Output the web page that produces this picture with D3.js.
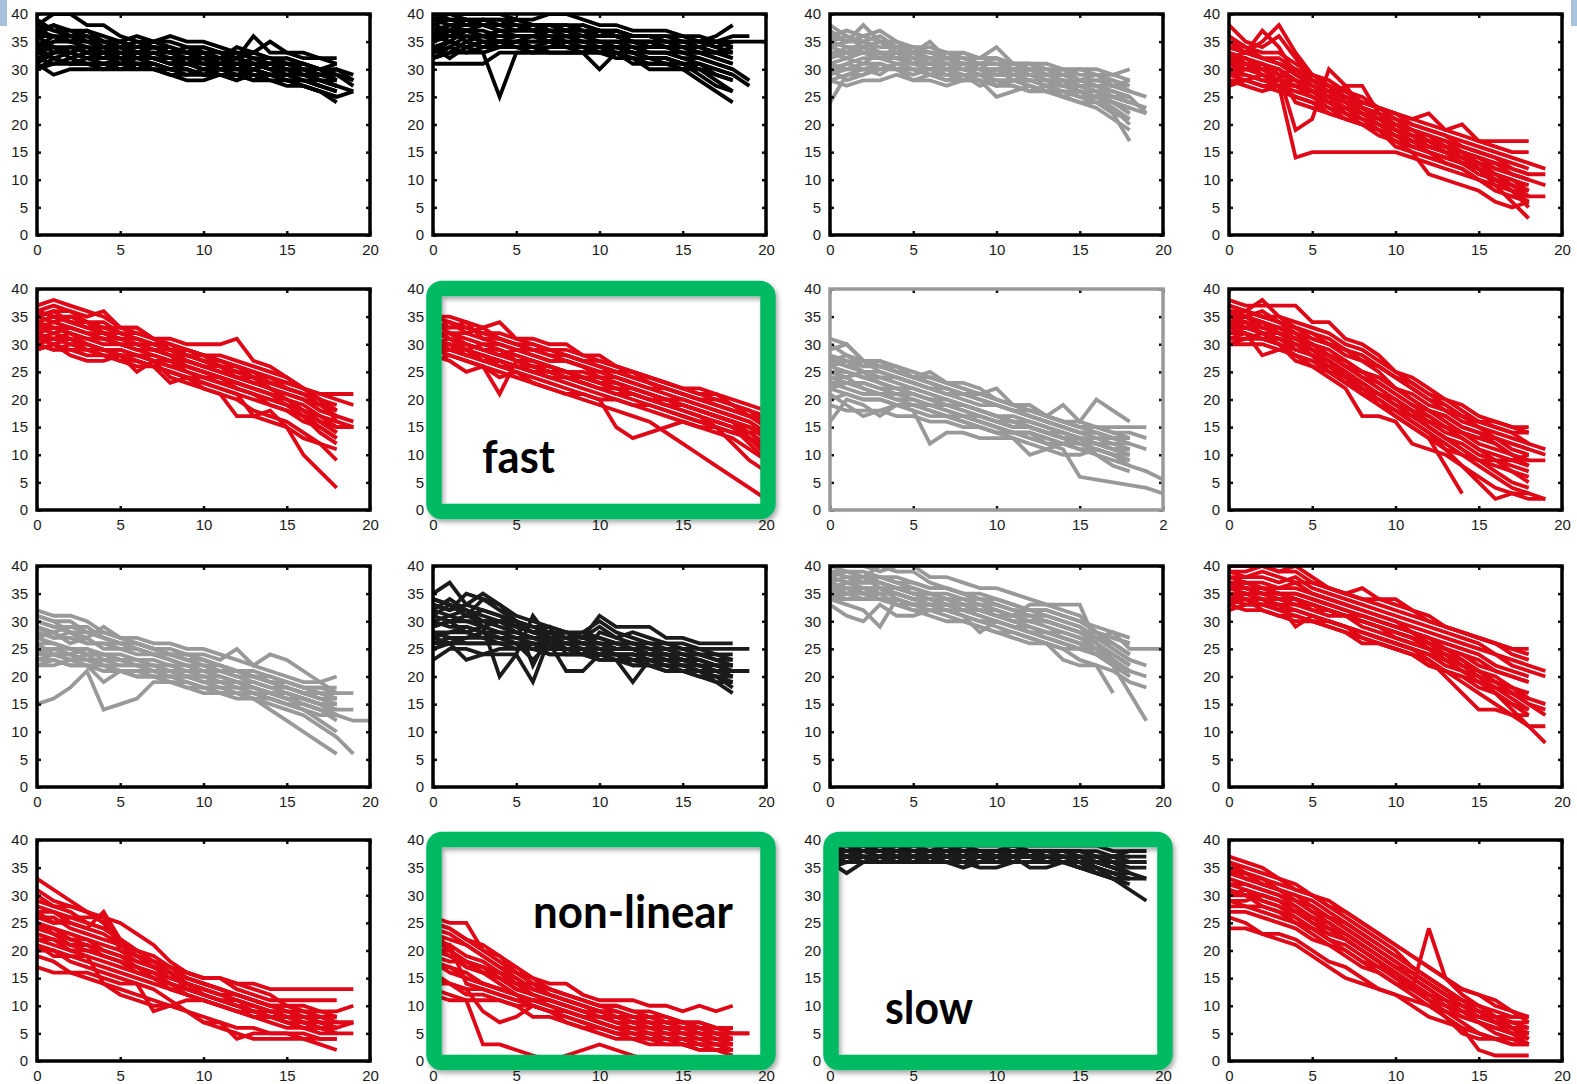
<!DOCTYPE html>
<html><head><meta charset="utf-8">
<script src="https://cdn.jsdelivr.net/npm/d3@7/dist/d3.min.js"></script>
<style>html,body{margin:0;padding:0;background:#fff;}svg{display:block;}</style>
</head><body>
<svg id="chart" width="1577" height="1084"></svg>
<script>
// ---------- DATA ----------
const xSteps = [0,1,2,3,4,5,6,7,8,9,10,11,12,13,14,15,16,17,18,19,20];
const yTicks = [0,5,10,15,20,25,30,35,40];
const xTicks = [0,5,10,15,20];
const xLabelsStd = ["0","5","10","15","20"];
const xLabelsCut = ["0","5","10","15","2"];

const p1 = [
[38,40,40,38,38,36,35,35,35,34,34,33,33,32,32,31,30,29,28],
[36,38,37,37,36,35,36,35,36,35,35,34,33,33,32,32,31,30,30],
[34,35,35,34,34,33,33,33,32,32,32,31,31,31,30,30,29,29,29],
[32,33,33,32,32,33,32,32,31,31,30,31,30,31,30,29,29,28,27],
[30,31,31,31,30,30,30,30,30,29,29,29,29,28,28,28,27,26,25],
[31,29,30,30,30,31,31,30,29,28,28,29,29,28,29,28,27,26,24],
[35,34,34,33,33,32,32,32,31,31,31,31,32,36,33,33,32,32,31],
[33,34,32,33,32,32,31,31,30,30,29,29,28,30,29,30,29,28,28],
[37,36,36,35,34,34,33,33,33,32,32,32,34,33,35,33,33,32,32],
[39,37,36,36,35,35,34,34,33,33,33,33,32,31,31,31,31,30,29,27],
[34,32,31,31,31,31,31,31,30,30,29,30,30,29,29,29,28,28,27,26],
[36,36,35,35,34,34,33,34,33,33,32,32,32,31,31,30,30,29,30,29],
[31,33,34,34,33,33,32,32,32,32,31,30,30,30,29,29,28,27],
[33,35,36,35,35,34,34,34,34,33,33,32,31,32,31,31,30,30,28],
[37,38,36,37,35,34,35,34,33,34,33,32,33,32,31,32,31,30,31],
[35,33,34,33,34,32,33,32,31,32,31,32,30,31,30,29,30,28,27],
[32,31,32,31,31,30,31,30,29,29,30,29,28,29,28,27,27,26,25,26],
[36,34,33,34,33,34,32,33,32,31,32,30,31,30,31,30,29,28,27],
[33,32,33,32,33,31,32,31,30,31,30,30,29,30,29,28,28,27,26],
[38,37,37,36,35,35,34,35,34,33,34,33,32,33,32,31,31,30,29,28],
[30,32,31,32,31,32,30,31,30,30,29,30,29,28,29,28,28,27,26],
[34,36,35,36,34,35,33,34,33,32,33,31,32,31,30,31,30,29,30,28]
];
const p2 = [
[40,40,40,40,40,39,39,40,40,39,38,38,37,37,37,36,36,35,34],
[38,39,39,38,38,38,38,38,38,37,37,37,36,36,36,36,35,36,38],
[36,37,37,37,36,36,36,37,37,36,36,36,35,35,34,34,34,33,32],
[34,35,34,35,35,34,34,34,35,35,34,34,34,33,33,33,32,31,30],
[32,33,33,33,25,33,33,33,33,33,33,33,31,31,31,30,30,29,28],
[31,31,31,31,33,33,33,33,33,33,30,33,32,30,30,30,28,26,24],
[39,38,38,39,39,38,37,37,36,36,36,36,35,35,35,35,35,35,35,35,35],
[35,36,36,36,35,35,35,35,34,34,34,34,33,33,33,32,31,30,29,27],
[33,34,36,35,35,36,36,36,35,35,35,35,34,34,34,34,33,33,33],
[37,38,38,38,37,37,37,37,37,37,36,36,35,35,35,34,34,35,36,36],
[32,34,33,34,34,35,35,35,34,34,33,33,32,32,32,31,30,28,26],
[36,35,37,36,36,36,36,36,36,35,35,35,35,34,34,33,33,32,31],
[40,39,39,39,39,39,38,38,38,38,37,37,36,36,36,35,35,34,33],
[34,32,34,33,34,34,34,33,33,33,34,34,33,32,32,31,29,27,26],
[39,39,38,39,38,38,37,38,37,37,36,37,36,36,35,35,34,33,32],
[37,36,37,36,37,36,36,35,36,35,35,34,34,33,33,32,32,31,30,28],
[35,37,35,36,35,35,36,35,35,34,34,33,33,32,31,31,30,29,28],
[33,35,34,35,34,34,33,34,34,33,33,34,33,32,32,31,31,30,29],
[38,37,39,38,38,37,38,37,37,36,37,36,35,35,34,33,33,32,31],
[36,38,37,38,37,37,37,36,36,36,35,35,35,34,34,34,33,33,34],
[32,33,35,34,35,35,34,35,34,34,33,32,32,31,31,30,31,29,28],
[39,40,39,39,38,39,38,38,37,38,37,36,36,36,35,35,35,34,35]
];
const p3 = [
[38,36,35,36,34,33,33,33,32,32,32,31,31,30,30,30,30,29,30],
[36,37,36,37,35,34,34,33,33,32,32,31,31,31,30,29,29,29,28],
[34,35,38,35,35,33,35,32,33,32,34,31,31,30,29,30,29,28,27],
[32,33,33,33,33,32,32,32,31,31,31,30,30,29,29,28,28,27,26],
[30,31,32,32,31,31,31,31,30,30,29,29,29,28,28,27,26,25,24],
[28,29,29,30,30,30,30,29,29,29,28,28,28,27,26,26,25,24,22],
[28,27,28,28,29,28,28,27,28,28,27,27,26,26,25,24,23,21,19],
[24,29,30,30,31,30,29,28,28,28,27,28,27,26,26,25,25,23,20],
[35,34,34,33,32,32,31,31,31,30,30,30,30,29,28,27,26,22,17],
[33,32,33,32,32,31,31,30,30,29,29,29,28,28,27,27,26,25,25,22],
[31,30,30,31,30,30,29,29,29,29,28,28,28,27,27,26,25,24,23,22],
[36,35,35,34,34,33,32,32,31,30,30,30,29,28,28,28,27,26,25],
[29,30,31,31,30,29,30,30,29,28,25,26,27,26,25,24,24,22,21],
[33,33,34,33,33,33,32,31,31,31,31,31,30,29,29,28,28,28,26],
[35,36,34,35,33,34,33,32,32,31,31,30,30,29,29,28,27,27,26,25],
[33,32,34,32,33,31,32,30,31,30,30,29,29,28,27,27,26,25,24],
[31,32,31,33,32,31,30,31,30,29,30,28,28,27,28,26,26,24,23],
[29,31,30,29,31,30,29,30,28,29,27,28,27,26,26,25,24,23,21],
[34,33,35,33,32,33,31,31,30,31,29,30,29,28,27,28,27,26,25],
[37,35,36,35,34,34,33,33,32,31,32,30,31,29,30,28,29,27,28],
[30,28,29,31,30,28,29,28,29,27,28,27,26,27,25,26,24,24,22],
[32,34,33,32,34,32,31,32,31,30,30,29,30,28,28,27,27,25,24,23]
];
const p4 = [
[38,35,34,36,32,28,27,25,23,22,20,19,18,17,16,15,14,13,12],
[34,33,35,38,33,29,28,26,25,23,22,21,20,19,18,17,16,15,15],
[32,33,37,34,29,27,26,25,24,23,22,21,22,19,20,17,17,17,17],
[30,30,31,29,19,21,30,27,23,21,19,18,17,16,15,14,13,12,11,11],
[28,28,27,27,14,15,15,15,15,15,15,14,13,12,11,10,9,8,7],
[31,30,29,28,27,26,25,27,27,22,19,18,17,16,15,13,11,9,7,7],
[33,32,31,30,28,26,24,22,21,19,18,17,16,15,14,12,10,8,6],
[29,28,27,26,25,24,23,22,21,20,19,18,17,16,15,12,9,6,3],
[35,33,32,31,30,28,26,25,23,22,20,19,18,16,14,12,10,8,5],
[30,29,28,28,27,25,23,21,20,19,18,17,16,15,14,13,12,11,10],
[36,34,33,33,31,29,27,24,22,20,18,16,15,13,12,10,9,8,7],
[27,28,29,27,27,26,24,23,21,19,17,16,15,14,13,12,11,10,9],
[32,31,30,29,28,26,25,22,20,19,16,15,14,13,12,10,8,7,6],
[29,30,31,29,24,23,22,21,20,18,17,15,11,10,9,8,6,5,6],
[34,33,32,31,29,28,27,26,24,23,21,20,19,18,16,15,14,12,11],
[31,32,30,30,28,27,25,24,23,21,20,19,17,16,15,14,12,11,10,9],
[29,29,28,27,26,25,24,23,22,20,19,17,16,15,13,12,11,9,8],
[33,31,31,29,30,27,26,25,23,22,21,19,18,17,15,14,13,11,10],
[28,27,26,27,25,24,22,21,20,19,18,17,15,14,13,11,10,9,7],
[35,34,32,32,30,29,27,26,24,23,22,20,19,18,17,16,15,14,13,12],
[30,31,29,28,27,26,25,23,22,21,19,18,16,15,13,12,10,9,8],
[32,30,30,28,28,26,26,24,22,21,20,18,17,15,14,13,11,10,8]
];
const p5 = [
[37,38,37,36,35,33,33,31,31,30,30,30,31,27,26,24,22,21,21,21],
[35,36,36,35,36,33,33,31,30,29,28,27,26,25,24,23,22,20,18],
[33,34,35,34,32,31,31,30,30,28,27,26,25,24,23,22,21,19,17],
[31,32,33,32,31,30,29,29,28,27,26,25,24,23,22,20,18,16,15,15],
[29,30,28,27,27,28,25,27,24,23,22,21,20,18,17,16,14,12,11],
[30,29,29,29,28,28,27,26,25,24,23,22,21,17,18,15,10,7,4],
[36,35,34,33,32,31,30,29,28,28,27,26,25,24,22,21,20,19,18],
[34,33,32,31,31,30,30,29,28,26,25,24,23,22,21,20,19,17,16],
[32,31,32,30,29,29,28,28,27,25,24,24,22,21,20,19,18,16,14],
[30,31,31,30,29,28,28,27,26,26,25,24,23,22,21,19,17,14,12],
[36,37,36,34,33,33,32,31,30,29,28,28,27,26,25,24,22,20,16,15],
[33,32,31,30,29,28,27,26,23,24,23,22,21,20,19,18,17,15,13],
[35,34,33,32,32,31,30,30,29,28,27,26,26,25,23,22,21,20,19],
[31,30,29,28,28,27,26,26,25,24,22,21,17,17,16,15,13,12,9],
[34,35,34,33,33,32,31,30,29,29,28,27,26,25,24,23,22,21,20,19],
[32,33,32,31,30,30,29,28,27,27,26,25,24,23,22,21,20,18,17],
[30,29,30,29,28,27,27,26,25,24,24,23,22,21,20,19,17,16,14],
[36,35,35,34,34,32,32,31,29,29,28,27,26,24,24,22,21,19,18],
[33,33,33,32,31,31,30,29,29,27,26,26,24,24,22,21,20,18,17,16],
[29,30,31,29,29,28,28,27,26,25,24,23,22,21,19,18,16,15,13],
[35,36,34,34,32,32,31,30,29,28,28,26,25,24,23,22,21,20,18],
[31,31,30,30,29,29,28,27,27,26,25,24,23,22,21,20,18,17,15,15]
];
const p6 = [
[35,35,34,33,34,31,31,30,30,28,28,26,25,24,23,22,21,21,19,18,17],
[33,33,34,31,31,30,29,29,28,27,26,25,25,23,22,21,20,19,18,17,16],
[31,32,30,29,28,29,28,27,27,26,24,24,23,22,21,20,19,18,17,16,14],
[30,29,28,27,27,26,26,25,25,24,23,22,21,20,19,18,17,15,12,9,7],
[29,28,27,26,21,27,26,25,24,23,22,21,20,19,18,17,16,15,14,14,14],
[28,27,25,26,24,25,23,22,21,20,19,18,17,16,14,12,10,8,6,4,2],
[32,31,30,29,29,28,27,26,25,24,23,22,21,20,20,19,18,17,16,15,13],
[34,32,32,31,30,29,29,28,27,26,25,25,24,23,22,21,20,19,18,17,17],
[30,30,29,28,27,26,25,25,24,24,23,22,22,21,20,19,18,17,16,13,10],
[27,28,27,26,25,24,23,22,21,21,20,15,13,14,15,16,15,15,14,13,12],
[33,31,29,28,27,26,25,24,23,22,21,20,19,19,18,17,16,16,15,12,9],
[31,30,29,30,29,27,26,26,25,24,24,23,22,21,20,19,18,17,16,15,14],
[29,29,28,28,26,25,24,23,22,21,20,20,19,18,17,16,15,14,13,11,9],
[34,33,33,32,31,30,30,29,28,27,27,26,25,24,23,22,22,21,20,19,18],
[32,32,31,30,30,29,28,27,27,26,25,24,23,22,22,21,20,19,18,17,15],
[30,31,30,29,28,27,27,26,25,25,24,23,22,21,20,20,19,18,17,16,14],
[28,29,29,27,26,26,25,24,24,23,22,21,21,20,19,18,17,16,15,13,11],
[33,34,32,33,31,30,29,28,28,27,26,25,24,23,22,21,20,20,19,17,16],
[31,29,30,29,28,28,27,26,25,24,23,23,22,21,20,19,18,17,16,14,12],
[29,30,28,28,27,26,26,25,24,23,22,22,21,20,19,19,18,17,16,15,13],
[35,34,33,32,32,31,30,29,29,28,27,26,25,24,23,22,21,20,19,18,16]
];
const p7 = [
[31,30,27,27,26,24,25,23,22,21,22,19,19,17,16,15,15,15,15,15],
[29,30,27,26,26,25,24,23,23,22,20,19,19,17,19,16,20,18,16],
[27,28,26,26,25,24,23,22,21,20,19,18,17,16,15,14,14,13,13],
[25,25,24,24,23,22,21,20,19,18,17,16,16,15,14,13,13,12,12],
[23,23,23,22,22,21,20,19,18,17,16,16,15,14,13,13,12,11,11],
[21,19,17,18,19,18,12,14,14,13,13,13,12,11,10,10,11,10,9],
[16,20,19,17,19,18,17,17,16,15,14,14,14,12,11,6,5.5,5,4.5,4,3],
[22,21,20,20,19,19,18,17,16,15,14,13,10,11,12,13,10,8,7],
[26,25,24,23,22,21,20,19,19,18,17,16,15,14,13,12,11,10,8,7,5.5],
[24,24,22,21,20,20,19,18,17,16,15,14,14,13,12,11,10,9,8],
[28,26,25,25,24,23,22,22,21,20,19,18,17,16,15,14,14,13,13],
[19,18,18,18,17,17,16,16,15,15,14,14,13,12,12,12,11,10,10],
[23,22,21,21,20,19,19,18,17,17,16,15,15,14,13,12,12,11,10],
[30,28,27,26,25,24,23,22,21,21,20,19,18,17,16,15,14,13,12],
[27,26,27,25,24,23,22,21,20,19,19,18,17,16,15,14,13,13,12,11],
[25,24,25,23,22,22,21,20,19,18,17,17,16,15,14,13,12,12,11],
[22,23,22,21,21,20,19,19,18,17,16,15,15,14,13,13,12,11,10],
[26,27,25,24,24,23,22,21,21,20,19,18,18,17,16,15,15,14,13],
[20,21,20,20,19,19,18,17,17,16,15,14,14,13,12,11,11,10,9],
[28,27,26,27,25,24,24,23,22,21,20,19,18,17,16,16,15,14,14,13],
[24,23,23,22,21,21,20,20,19,18,17,16,15,14,14,13,12,11,11]
];
const p8 = [
[38,37,37,37,37,34,34,31,30,28,25,23,21,20,19,17,16,15,15],
[36,36,38,35,34,33,32,30,29,27,25,24,22,20,18,16,16,15,14],
[35,35,34,33,32,31,30,29,28,26,24,22,20,19,17,16,15,14,12,11],
[34,33,34,32,31,30,28,26,24,22,20,18,16,15,14,13,13,12,11],
[32,32,28,29,30,28,26,24,22,21,19,18,17,15,14,12,11,10,9],
[30,31,31,31,30,28,25,23,21,20,18,16,14,12,10,9,9,9,10],
[33,32,31,30,27,26,24,22,17,17,16,12,11,10,8,6,4,3,2,2],
[37,36,35,34,32,29,27,24,21,19,17,15,13,8,3],
[31,31,32,30,29,28,26,24,22,21,20,18,15,13,11,9,8,7,6],
[35,34,33,33,32,30,28,26,25,23,21,19,17,15,13,11,9,7,5],
[33,33,32,31,30,29,27,25,22,19,18,16,14,11,8,5,2,3,3,2],
[36,35,36,34,33,31,30,28,27,25,22,21,19,18,16,15,14,13,12],
[34,34,33,32,31,30,29,27,25,24,22,20,18,17,15,14,12,10,8],
[37,36,35,35,33,32,31,29,27,26,24,22,20,18,17,16,15,14,14],
[34,35,33,33,31,30,28,27,25,24,22,20,18,17,15,14,13,12,11,10],
[32,33,32,31,29,28,27,25,23,21,19,17,15,13,12,10,9,8,7],
[36,35,34,32,31,29,27,25,23,21,19,17,15,13,11,9,7,5,4],
[31,32,31,30,28,27,25,24,22,20,18,17,16,14,13,11,10,9,8],
[33,34,32,32,30,29,28,26,24,23,21,19,18,16,14,13,12,10,9,9],
[35,36,35,34,33,32,30,29,27,26,24,23,21,19,17,15,13,11,10],
[30,30,30,29,28,26,25,23,21,19,17,15,13,11,10,8,6,4,3]
];
const p9 = [
[32,31,31,30,28,27,27,26,26,25,25,24,23,22,21,20,19,19,20],
[30,29,28,27,29,27,26,25,24,24,24,23,25,22,24,23,21,19,17],
[28,27,27,26,26,25,25,24,24,23,22,22,21,20,20,19,18,18,18],
[26,26,25,25,24,24,23,23,22,22,21,21,20,19,18,18,17,17,16],
[24,24,24,23,23,22,22,21,21,20,20,19,19,18,17,17,16,15,14],
[22,22,23,24,22,21,21,20,20,20,19,18,18,17,16,15,14,13,13,12,12],
[15,16,18,21,14,15,16,19,19,18,18,17,17,16,14,12,10,8,6],
[25,24,23,22,19,21,20,20,19,18,17,17,16,16,15,14,13,11,9,6],
[27,26,25,24,24,23,22,22,21,20,20,20,19,18,17,16,15,14,12],
[29,28,29,29,27,26,25,24,23,22,21,20,19,18,17,17,16,15,15],
[23,23,22,22,21,21,20,20,19,19,18,18,17,17,16,15,15,14,13],
[31,30,30,28,27,26,26,25,25,24,23,22,21,20,19,19,18,17,17],
[25,25,24,23,22,21,21,21,20,19,18,17,17,16,16,15,14,12,10],
[30,29,29,28,27,26,26,25,24,23,23,22,21,21,20,19,18,18,17,17],
[27,28,26,27,25,25,24,24,23,22,22,21,20,20,19,18,17,17,16],
[24,25,25,24,24,23,23,22,22,21,21,20,19,19,18,17,16,15,15],
[22,23,22,22,22,21,21,21,20,20,19,19,18,17,17,16,15,14,13],
[29,27,28,26,26,26,25,24,24,23,22,21,21,20,19,18,17,16,15],
[26,24,24,25,23,23,22,22,21,21,20,19,19,18,17,16,16,15,14,14],
[31,30,28,28,28,27,26,25,24,24,23,22,21,20,19,18,17,16,16],
[23,24,23,23,22,22,22,21,21,20,19,19,18,18,17,17,16,15,13]
];
const p10 = [
[35,37,33,35,33,31,30,29,28,27,31,29,29,29,27,27,26,26,26],
[33,32,35,34,33,30,29,28,27,28,30,28,27,26,26,25,25,25,25,25],
[31,33,31,34,32,30,28,27,28,27,29,27,26,26,25,25,24,24,24],
[29,30,30,29,20,24,31,27,27,26,25,25,25,24,24,23,23,22,22],
[27,28,28,27,27,26,23,26,21,21,24,24,22,22,21,21,21,21,21],
[23,25,25,24,24,24,19,27,25,25,24,23,19,23,22,21,20,19,19],
[32,31,30,30,29,28,27,27,26,26,26,25,25,24,24,23,22,21,20],
[30,29,29,28,28,27,27,26,26,25,25,24,24,23,23,22,21,19,17],
[28,27,27,27,26,26,26,25,25,25,24,24,23,23,22,22,22,21,20],
[26,26,26,26,26,26,25,25,25,25,24,24,24,24,23,23,23,22,22],
[34,33,32,31,30,30,22,28,28,28,27,26,26,25,25,24,24,23,22],
[25,26,23,24,25,25,26,24,24,24,23,23,22,22,21,21,20,20,18],
[30,31,32,29,30,29,28,29,24,24,28,27,28,27,26,26,25,24,23],
[33,32,33,32,31,30,29,29,28,27,27,26,26,25,25,24,24,23,23],
[31,30,31,30,30,29,28,28,27,27,26,26,25,25,24,24,23,22,21],
[29,30,28,29,28,28,27,27,26,26,26,25,25,24,24,23,22,22,21,21],
[27,26,27,28,27,27,26,26,25,25,25,24,24,23,23,22,22,21,20],
[34,33,31,32,31,29,28,27,27,26,26,25,25,24,24,23,23,22,22],
[28,28,29,28,27,26,26,25,25,24,24,24,23,23,22,22,21,20,19],
[26,27,26,26,26,25,25,24,24,24,23,23,23,22,22,21,21,20,20],
[32,34,32,30,30,28,27,26,26,26,25,25,25,24,23,23,22,21,21]
];
const p11 = [
[40,40,40,39,40,40,38,38,37,36,36,35,34,33,32,31,28,27,26],
[38,39,38,40,39,39,37,36,35,35,34,33,32,32,31,30,29,28,25,25,25],
[36,37,37,38,37,36,35,35,34,34,33,32,31,31,30,29,27,26,24],
[35,36,35,36,35,34,34,33,33,32,31,30,29,28,28,27,25,22,17,12],
[34,33,32,29,34,33,33,33,32,31,30,29,28,27,26,25,24,22,21],
[33,31,30,33,31,31,32,31,30,29,28,27,26,26,25,23,22,17],
[37,36,36,35,35,34,33,33,32,32,31,31,33,33,33,33,26,23,20],
[39,38,38,37,36,35,35,34,33,33,32,31,30,30,29,28,26,24,22],
[36,35,36,36,34,33,33,32,31,28,30,29,29,28,27,26,25,23,21],
[34,34,34,35,33,32,32,32,31,30,29,28,27,26,23,22,22,21,19,18],
[38,37,37,37,36,36,35,34,34,33,33,32,31,30,29,28,27,26,24],
[35,35,34,34,33,32,31,30,30,29,28,28,27,26,25,25,27,28,27],
[39,39,38,38,37,37,36,36,35,34,34,33,32,32,31,30,28,26,24],
[37,38,37,37,36,35,35,34,33,33,32,31,31,30,29,28,27,25,23,22],
[36,36,35,35,35,34,33,33,32,32,31,30,30,29,28,27,26,24,22],
[35,34,34,34,33,33,32,32,31,30,30,29,28,28,27,26,24,22,20],
[40,39,39,38,38,37,36,36,35,34,33,32,32,31,30,29,27,25,23],
[34,35,35,34,34,33,33,32,32,31,30,29,28,27,26,25,24,23,21,20],
[38,37,38,36,36,35,34,34,33,32,32,31,30,30,29,28,28,27,26],
[36,37,36,36,35,34,34,33,33,32,31,30,29,28,27,26,25,24,22]
];
const p12 = [
[40,40,40,39,40,38,36,35,36,34,33,32,30,29,28,27,26,25,25],
[39,39,40,39,39,37,36,35,34,34,34,32,31,29,28,27,26,24,23],
[38,38,38,37,38,36,35,34,33,32,31,30,29,28,27,26,24,23,22,21],
[37,37,36,36,37,35,34,33,32,31,30,28,27,25,23,21,19,17,15,14],
[36,36,35,35,35,34,33,32,31,30,29,28,27,26,25,24,22,21,20],
[35,34,34,33,33,32,31,31,30,29,28,27,25,23,21,19,17,15,13],
[34,33,33,33,29,31,30,29,28,27,26,25,24,22,21,20,18,16,14],
[33,34,32,31,31,30,29,28,26,26,25,24,23,21,19,17,15,13,11,11],
[36,35,35,34,34,33,32,31,31,30,29,28,26,25,24,23,21,20,19],
[34,35,34,32,32,31,30,29,28,27,26,25,23,20,17,14,14,13,13],
[37,36,36,35,34,33,32,31,30,29,28,27,25,24,22,20,17,14,11,8],
[32,33,33,32,31,30,30,29,27,26,25,24,22,21,20,19,18,17,16],
[39,38,39,38,37,37,36,35,34,33,32,31,30,29,28,27,26,25,24],
[38,37,37,36,36,35,34,33,32,31,30,29,28,27,26,25,24,22,21,20],
[36,37,36,35,35,34,33,32,31,30,29,28,26,25,24,22,21,20,19],
[35,35,34,34,33,33,32,31,30,29,27,26,25,24,22,21,19,18,17],
[37,36,35,35,34,33,32,31,30,29,28,27,26,24,23,21,20,18,16,15],
[34,34,33,33,32,31,30,29,28,27,26,25,24,23,21,20,19,18,16],
[33,32,32,31,30,30,29,28,27,26,25,24,22,21,20,18,17,15,14],
[36,36,35,34,34,32,32,31,29,28,27,26,25,23,22,21,19,17,15,13]
];
const p13 = [
[33,31,29,27,25,22,20,18,17,16,15,15,14,14,13,13,13,13,13,13],
[31,29,28,27,26,25,23,21,18,16,15,15,13,12,11,11,11,11,11],
[29,28,28,27,25,21,19,18,17,15,14,13,12,11,10,10,10,9,9,10],
[27,25,25,24,27,22,19,18,16,14,12,11,10,9,9,8,8,7,7,7],
[25,24,22,21,20,19,18,17,16,14,13,12,11,10,9,8,7,7,6],
[23,22,20,19,14,12,11,10,10,9,8,7,6,6,5,5,5,4,4],
[21,20,18,17,16,15,14,13,11,9,7,6,5,4,4,4,4,3,2],
[19,18,16,15,14,13,12,11,10,9,7,7,4,5,5,5,4,4,4],
[17,16,16,16,15,14,14,9,10,11,11,10,9,8,8,7,6,6,6],
[26,25,26,26,26,20,19,18,17,16,15,15,14,13,12,10,9,8,7],
[24,23,21,21,19,18,16,15,14,13,12,11,11,10,9,9,8,7,6,7],
[22,21,20,20,19,18,17,16,15,14,13,12,12,11,10,9,8,8,8],
[28,27,26,25,24,22,20,18,16,13,12,11,10,9,8,8,7,6,5],
[30,28,27,25,24,22,20,19,17,15,14,13,12,11,10,9,9,8,8],
[26,26,24,23,22,21,19,17,16,14,13,12,11,10,9,9,8,8,7,7],
[24,24,23,22,20,19,17,16,14,13,12,11,10,9,8,8,7,6,6],
[22,22,21,20,19,18,17,15,13,12,11,10,9,8,7,6,6,5,5],
[20,20,19,19,18,17,16,15,14,12,11,10,9,9,8,7,7,6,6],
[27,27,25,24,23,21,19,17,16,15,14,13,12,11,10,10,9,9,8],
[25,23,22,22,21,20,18,17,15,14,12,11,10,10,9,8,8,7,6],
[21,19,19,18,17,16,15,14,13,12,11,10,9,8,8,7,6,6,5,5]
];
const p14 = [
[26,25,25,20,19,17,15,14,14,12,11,11,11,10,10,9,10,9,10],
[25,24,22,21,19,16,14,12,11,10,9,9,8,8,7,7,7,6,6],
[23,22,21,19,17,15,13,12,11,10,9,8,7,7,6,6,5,5,5,5],
[22,20,18,17,15,13,12,11,10,9,8,7,6,6,5,5,4,4,4],
[20,19,17,16,14,12,11,10,9,8,7,6,6,5,5,4,4,3,3],
[18,17,16,14,13,12,10,9,8,7,6,5,5,4,4,3,3,2,2],
[16,14,13,9,7,8,10,9,7,6,5,4,4,3,3,3,2,2,2],
[13,12,11,3,3,2,1,0,1,2,3,2,1,0,0,0,0,0,0],
[21,21,14,13,12,11,10,9,8,7,6,5,5,4,4,4,3,3,3],
[12,11,11,11,11,10,10,9,9,8,7,6,6,5,4,4,3,3,2],
[24,20,17,16,16,14,12,11,10,9,8,8,7,7,6,6,6,5,4],
[15,14,12,12,11,10,8,8,7,6,6,5,4,4,3,3,2,2,1],
[19,18,18,17,16,14,14,13,12,11,10,10,9,9,8,7,6,5,4],
[24,23,21,19,17,16,14,13,12,11,10,9,8,8,7,7,6,6,5],
[22,21,19,18,16,15,13,12,11,10,9,8,8,7,7,6,6,5,5,5],
[20,20,18,16,15,14,13,12,11,10,9,9,8,8,7,7,6,6,6],
[18,16,15,14,13,12,11,11,10,9,8,8,7,6,6,5,5,4,4],
[17,17,15,14,13,12,11,10,9,8,8,7,7,6,6,5,5,4,3],
[14,14,13,13,12,11,11,10,9,8,7,6,5,5,4,4,3,3,3],
[25,24,22,20,18,16,15,13,12,11,10,10,9,8,8,7,7,6,6],
[21,19,18,16,15,13,12,11,10,9,9,8,7,7,6,6,5,4,4]
];
const p15 = [
[39,39,39,39,39,39,39,39,39,39,39,39,39,39,39,39,39,38,38,38],
[38,38,38,38,38,38,38,38,38,38,38,38,38,38,38,38,37,37,38,38],
[37,37,38,37,37,38,38,38,37,37,38,37,38,38,38,37,37,37,36,36],
[36,34,36,37,36,37,37,37,37,37,37,37,37,37,37,36,36,35,34,33],
[35,36,36,36,37,37,36,37,36,36,37,37,37,36,36,35,34,33,31,29],
[37,37,37,36,37,37,37,36,35,36,37,37,35,35,36,36,34,33,33,33],
[38,38,38,38,38,38,37,38,38,38,38,37,37,38,37,37,36,36,34],
[36,37,37,37,38,37,37,38,38,37,37,38,38,38,38,38,37,36,36,36],
[39,38,38,39,38,38,38,38,39,38,38,38,38,38,38,37,37,37,37,37],
[37,36,36,37,36,36,36,36,36,35,35,36,36,36,36,36,35,34,33],
[38,37,37,37,37,37,37,37,37,37,36,37,37,37,37,37,35,33,32],
[36,36,37,37,37,37,36,36,36,37,36,37,37,36,36,35,34,33,33],
[38,37,38,38,37,37,38,37,37,38,37,37,38,37,37,37,36,36,35,35],
[37,38,37,37,38,37,37,37,38,37,37,37,37,37,37,37,36,35,34],
[39,39,38,38,38,39,38,38,38,38,38,39,38,38,38,38,38,37,37],
[36,36,36,36,36,37,36,37,36,36,36,36,36,37,36,36,35,34,33],
[38,38,39,38,38,38,38,38,37,38,38,38,37,37,37,37,37,36,36,36],
[37,37,36,37,37,36,37,37,37,37,37,37,37,37,37,36,36,35,34],
[39,38,38,38,39,38,38,39,38,38,38,38,38,38,38,38,37,37,36],
[36,37,37,37,37,37,37,37,37,37,37,36,36,36,36,35,35,34,34]
];
const p16 = [
[37,36,35,33,31,30,28,26,24,22,20,17,15,13,11,10,9,8,8],
[36,34,33,32,31,30,29,27,25,23,21,19,17,15,13,12,10,9,7],
[35,34,33,31,29,28,26,24,22,20,18,16,14,12,10,9,7,5,3],
[33,32,31,30,28,26,24,22,20,18,16,14,12,10,9,8,7,6,5],
[32,31,30,29,28,25,23,22,20,18,15,13,11,9,7,5,4,3,3],
[31,30,28,27,25,23,21,20,18,16,14,12,10,8,6,2,1,1,1],
[30,30,29,28,26,24,22,20,18,17,16,13,24,15,12,10,8,6,5],
[28,28,27,26,25,24,23,22,20,18,16,14,11,8,5,4,4,3,3],
[26,25,23,22,21,19,17,15,14,13,12,11,10,9,8,7,6,5,5],
[34,33,32,31,30,28,26,25,23,21,19,17,15,13,11,9,8,7,7],
[24,24,23,23,22,20,18,17,15,13,12,10,8,7,6,5,4,4,3],
[29,29,30,29,27,25,24,23,21,19,17,15,13,11,9,8,8,8,8],
[36,35,34,33,32,30,28,27,25,23,21,19,17,15,13,12,11,9,8],
[34,34,32,31,30,29,27,25,23,21,19,17,15,13,11,10,8,7,6],
[32,32,31,30,29,27,25,23,21,19,17,15,13,11,10,8,7,6,4],
[31,30,30,29,27,26,24,22,20,18,16,14,12,11,9,7,6,5,4],
[29,28,28,27,26,24,22,21,19,17,15,13,12,10,8,7,5,4,3],
[27,27,26,25,24,22,21,19,17,16,14,13,11,10,9,8,7,6,6],
[35,33,32,31,29,27,26,24,22,20,18,16,14,12,11,9,8,6,5],
[30,31,29,28,27,26,25,23,21,19,17,16,14,12,10,9,7,6,5]
];

// panel descriptors (row-major)
const RED = "#e00717", GRAY = "#999999", BLACK = "#000000", DARK = "#1b1b1b";
const panels = [
  {data:p1,  color:BLACK, frame:BLACK, narrow:false, labels:xLabelsStd},
  {data:p2,  color:BLACK, frame:BLACK, narrow:true,  labels:xLabelsStd},
  {data:p3,  color:GRAY,  frame:BLACK, narrow:true,  labels:xLabelsStd},
  {data:p4,  color:RED,   frame:BLACK, narrow:false, labels:xLabelsStd},
  {data:p5,  color:RED,   frame:BLACK, narrow:false, labels:xLabelsStd},
  {data:p6,  color:RED,   frame:BLACK, narrow:false, labels:xLabelsStd},
  {data:p7,  color:GRAY,  frame:GRAY,  narrow:false, labels:xLabelsCut},
  {data:p8,  color:RED,   frame:BLACK, narrow:false, labels:xLabelsStd},
  {data:p9,  color:GRAY,  frame:BLACK, narrow:true,  labels:xLabelsStd},
  {data:p10, color:DARK,  frame:BLACK, narrow:true,  labels:xLabelsStd},
  {data:p11, color:GRAY,  frame:BLACK, narrow:true,  labels:xLabelsStd},
  {data:p12, color:RED,   frame:BLACK, narrow:true,  labels:xLabelsStd},
  {data:p13, color:RED,   frame:BLACK, narrow:false, labels:xLabelsStd},
  {data:p14, color:RED,   frame:BLACK, narrow:false, labels:xLabelsStd},
  {data:p15, color:DARK,  frame:BLACK, narrow:false, labels:xLabelsStd},
  {data:p16, color:RED,   frame:BLACK, narrow:false, labels:xLabelsStd}
];
const highlights = [
  {panel:5,  text:"fast",       tx:482, ty:473, tl:73},
  {panel:13, text:"non-linear", tx:533, ty:928, tl:200},
  {panel:14, text:"slow",       tx:885, ty:1024, tl:88}
];

// ---------- LAYOUT ----------
const colX = [37, 433, 830, 1229];
const rowY = [14, 289, 566, 840];
const PW = 333, PH = 221;

const svg = d3.select("#chart");
const defs = svg.append("defs");
const f = defs.append("filter").attr("id","shadow").attr("x","-10%").attr("y","-10%").attr("width","120%").attr("height","120%");
f.append("feDropShadow").attr("dx",2).attr("dy",3).attr("stdDeviation",2.5).attr("flood-color","#000").attr("flood-opacity",0.35);

// corner accents
svg.append("rect").attr("x",0).attr("y",0).attr("width",7).attr("height",26).attr("fill","#a7c2da");
svg.append("rect").attr("x",1571).attr("y",0).attr("width",6).attr("height",26).attr("fill","#a7c2da");

const x = d3.scaleLinear().domain([0,20]).range([0,PW]);
const y = d3.scaleLinear().domain([0,40]).range([PH,0]);
const line = d3.line().x((d,i)=>x(xSteps[i])).y(d=>y(d)).curve(d3.curveLinear);

panels.forEach((p,k)=>{
  const r = Math.floor(k/4), c = k%4;
  const g = svg.append("g").attr("transform",`translate(${colX[c]},${rowY[r]})`);
  const cid = "clip"+k;
  defs.append("clipPath").attr("id",cid).append("rect").attr("x",0).attr("y",0).attr("width",PW).attr("height",PH);
  g.append("g").attr("clip-path",`url(#${cid})`).selectAll("path").data(p.data).join("path")
    .attr("d",line).attr("fill","none").attr("stroke",p.color).attr("stroke-width",3.8)
    .attr("stroke-linejoin","miter").attr("stroke-miterlimit",3);

  const font = p.narrow ? "'Liberation Sans Narrow','Liberation Sans',Arial,sans-serif" : "'Liberation Sans',Arial,sans-serif";
  const axB = g.append("g").attr("transform",`translate(0,${PH})`)
    .call(d3.axisBottom(x).tickValues(xTicks).tickSize(-4).tickPadding(9).tickFormat((d,i)=>p.labels[i]));
  const axL = g.append("g")
    .call(d3.axisLeft(y).tickValues(yTicks).tickSize(-4).tickPadding(9).tickFormat(d3.format("d")));
  const axT = g.append("g").call(d3.axisTop(x).tickValues(xTicks).tickSize(-4).tickFormat(""));
  const axR = g.append("g").attr("transform",`translate(${PW},0)`).call(d3.axisRight(y).tickValues(yTicks).tickSize(-4).tickFormat(""));
  [axB,axL,axT,axR].forEach(a=>{
    a.select(".domain").remove();
    a.selectAll(".tick line").attr("stroke","#111").attr("stroke-width",2.5);
    a.selectAll("text").attr("fill","#1a1a1a").style("font-family",font).style("font-size","15px");
  });
  g.append("rect").attr("x",0).attr("y",0).attr("width",PW).attr("height",PH)
    .attr("fill","none").attr("stroke",p.frame).attr("stroke-width",3.5);
});

highlights.forEach(h=>{
  const r = Math.floor(h.panel/4), c = h.panel%4;
  svg.append("rect").attr("x",colX[c]+1).attr("y",rowY[r]-0.5).attr("width",PW+1).attr("height",PH+2)
    .attr("rx",8).attr("ry",8).attr("fill","none").attr("stroke","#00b964").attr("stroke-width",15.5)
    .attr("filter","url(#shadow)");
  svg.append("text").attr("x",h.tx).attr("y",h.ty).text(h.text)
    .attr("textLength",h.tl).attr("lengthAdjust","spacingAndGlyphs")
    .style("font-family","Lato,'Open Sans',sans-serif").style("font-weight","700").style("font-size","46px").attr("fill","#000");
});
</script>
</body></html>
